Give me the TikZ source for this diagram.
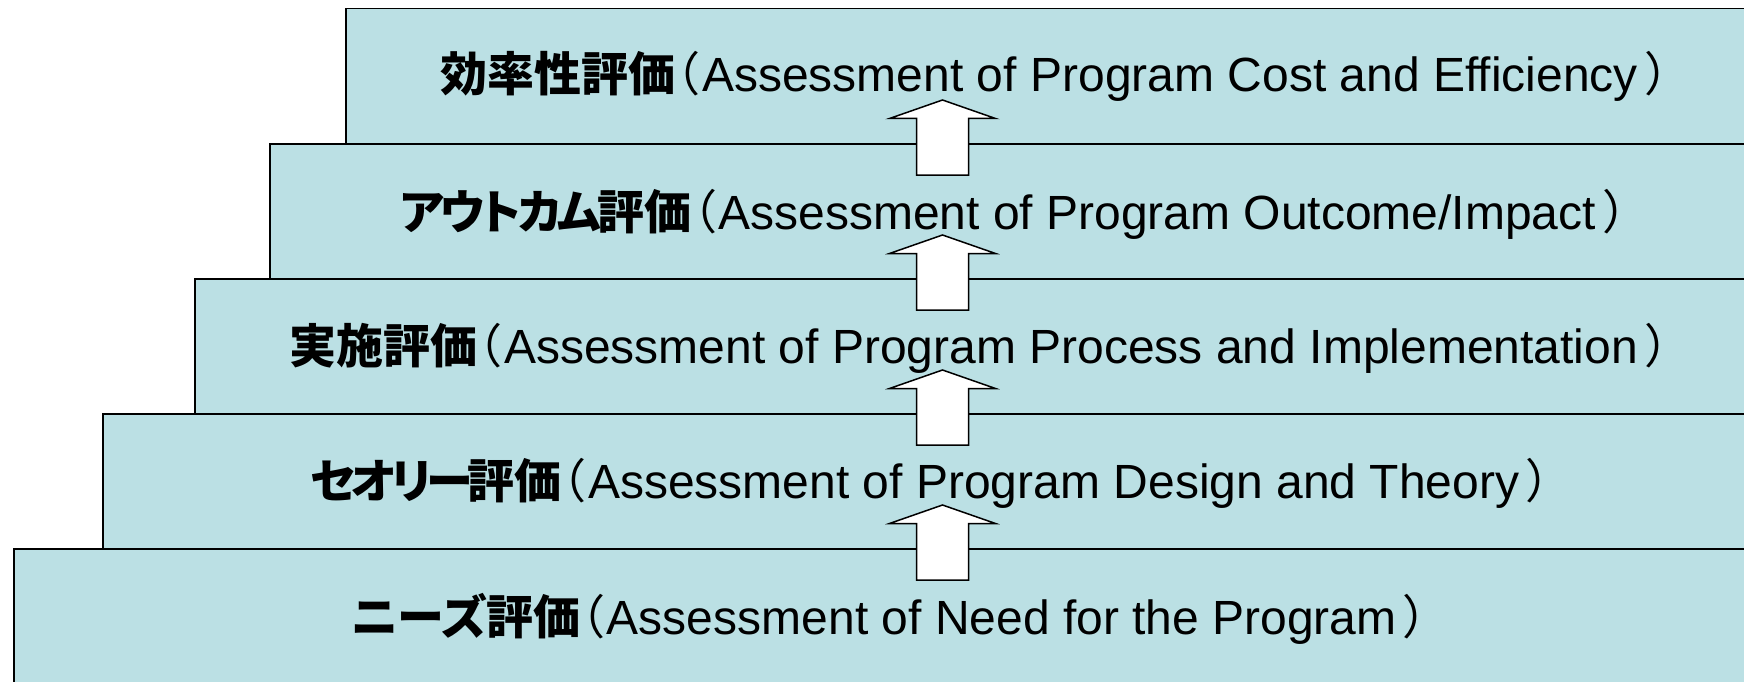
\documentclass[tikz,border=0pt]{standalone}
\usepackage{fontspec}
\setmainfont{Liberation Sans}
\newfontfamily\jp[RawFeature=+palt]{Noto Sans CJK JP}
\definecolor{boxfill}{RGB}{187,224,228}
\newcommand\lbl[2]{{\jp\bfseries\fontsize{47}{50}\selectfont #1}{\jp\fontsize{47}{50}\selectfont （}\kern3pt{\fontsize{48}{50}\selectfont #2}\kern8pt{\jp\fontsize{47}{50}\selectfont ）}}
\tikzset{
  box/.style={draw=black, line width=1.5pt, fill=boxfill, rectangle, anchor=north west, inner sep=0pt, minimum height=135pt},
  lab/.style={anchor=base, inner sep=0pt},
  arrowstyle/.style={draw=black, line width=1.5pt, fill=white, line join=miter},
  uparr/.pic={\path[arrowstyle] (0,-43) -- (53,-24.5) -- (26,-24.5) -- (26,32) -- (-26,32) -- (-26,-24.5) -- (-53,-24.5) -- cycle;}
}
\begin{document}
\begin{tikzpicture}[x=1pt, y=-1pt]
\useasboundingbox (0,0) rectangle (1744,682);
\clip (0,0) rectangle (1744,682);
\fill[white] (0,0) rectangle (1744,682);
% boxes, bottom to top
\node[box, minimum width=1737pt, minimum height=160pt] (b5) at (13,548) {};
\node[box, minimum width=1648pt] (b4) at (102,413) {};
\node[box, minimum width=1556pt] (b3) at (194,278) {};
\node[box, minimum width=1481pt] (b2) at (269,143) {};
\node[box, minimum width=1405pt] (b1) at (345,8) {};
% labels
\node[lab] (t1) at (1055,92) {\lbl{効率性評価}{Assessment of Program Cost and Efficiency}};
\node[lab] (t2) at (1014,229) {\lbl{ア\kern-3.5ptウ\kern-3.5ptト\kern-3.5ptカ\kern-3.5ptム\kern-3pt評価}{Assessment of Program Outcome/Impact}};
\node[lab] (t3) at (979.5,363) {\lbl{実施評価}{Assessment of Program Process and Implementation}};
\node[lab] (t4) at (930.5,498) {\lbl{セ\kern-4.5ptオ\kern-4.5ptリ\kern-4.5ptー\kern-4.5pt評価}{Assessment of Program Design and Theory}};
\node[lab] (t5) at (890,634) {\lbl{ニーズ評価}{Assessment of Need for the Program}};
% arrows at the boundaries
\coordinate (a1) at (942.5,143);
\coordinate (a2) at (942.5,278);
\coordinate (a3) at (942.5,413);
\coordinate (a4) at (942.5,548);
\pic at (a1) {uparr};
\pic at (a2) {uparr};
\pic at (a3) {uparr};
\pic at (a4) {uparr};
\end{tikzpicture}
\end{document}
